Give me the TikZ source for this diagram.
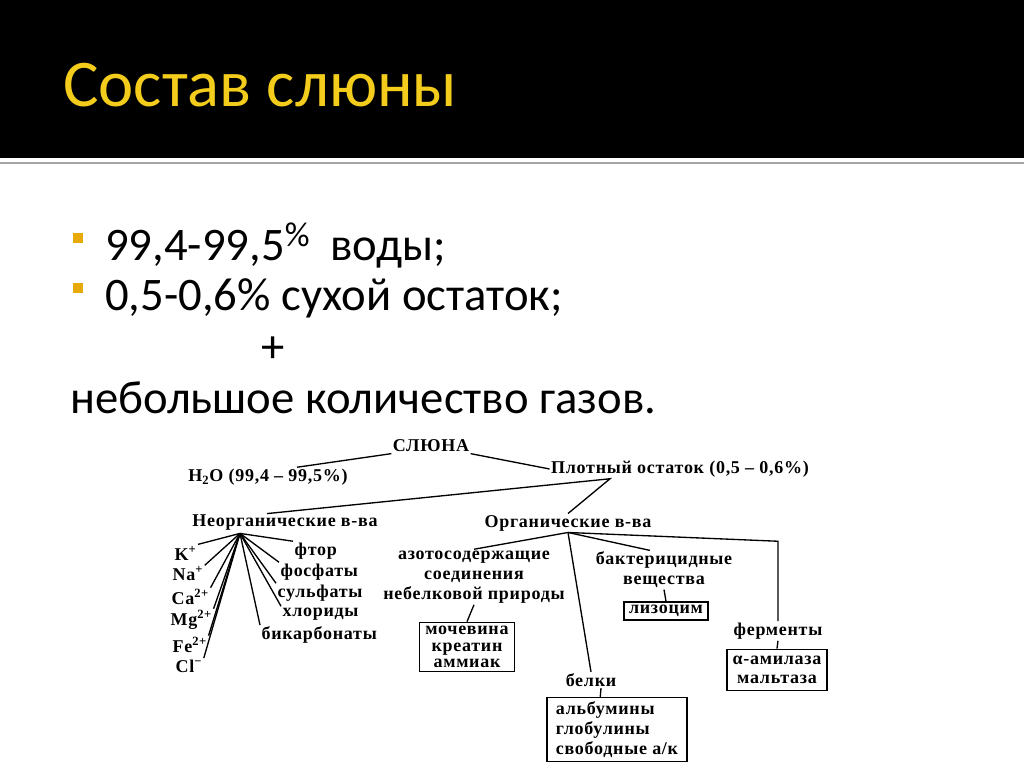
\documentclass[tikz,border=0pt]{standalone}
\usepackage{fontspec}
\setmainfont{Liberation Serif}
\newfontfamily\ttlfont{Carlito}
\newfontfamily\bdyfont{Carlito}
\newfontfamily\dgfont[LetterSpace=4]{Liberation Serif}
\usetikzlibrary{calc}
\definecolor{ttlcol}{RGB}{244,204,28}
\definecolor{bulcol}{RGB}{232,170,10}
\begin{document}
\begin{tikzpicture}[x=0.75pt,y=-0.75pt,
  dg/.style={font=\dgfont\bfseries\fontsize{13.5}{15}\selectfont, inner sep=1pt},
  bx/.style={dg, draw, line width=1.1pt, inner sep=2pt},
  ln/.style={line width=1pt},
  bul/.style={fill=bulcol, minimum size=7.5pt, inner sep=0pt},
  bdy/.style={font=\bdyfont\fontsize{35}{40}\selectfont, anchor=base west, inner sep=0pt},
  ttl/.style={font=\ttlfont\fontsize{50}{56}\selectfont, text=ttlcol, anchor=base west, inner sep=0pt}]
\useasboundingbox (0,0) rectangle (1024,767);
\fill[white] (0,0) rectangle (1024,767);
\fill[black] (0,0) rectangle (1024,158);
\draw[black!35, line width=1.5pt] (0,163) -- (1024,163);
\node[ttl] (title) at (63,106) {Состав слюны};
% bullets
\node[bul] (b1) at (78,238) {};
\node[bul] (b2) at (78,288) {};
\node[bdy] (t1) at (105,260) {99,4-99,5\raisebox{0.3em}{\fontsize{26}{28}\selectfont\%}\ \ воды;};
\node[bdy] (t2) at (105,310) {0,5-0,6\% сухой остаток;};
\node[bdy, anchor=center] (plus) at (273,350) {+};
\node[bdy] (t3) at (70,413) {небольшое количество газов.};
% diagram
\node[dg] (sl) at (431,446) {СЛЮНА};
\node[dg] (h2o) at (268,477) {H\textsubscript{2}O (99,4 – 99,5\%)};
\node[dg] (pl) at (680,469) {Плотный остаток (0,5 – 0,6\%)};
\node[dg] (inorg) at (285,523) {Неорганические в-ва};
\node[dg] (org) at (568,523) {Органические в-ва};
\draw[ln] ($(h2o.north)+(29,0)$) -- (sl.south west);
\draw[ln] (sl.south east) -- (pl.west);
\coordinate (pj) at ($(pl.south)+(-70,0)$);
\draw[ln] ($(inorg.north)+(-18,0)$) -- (pj) -- (org.north);
% inorganic
\coordinate (ia) at ($(inorg.south)+(-45,1)$);
\node[dg, anchor=west] (k) at (173,553) {K\textsuperscript{+}};
\node[dg, anchor=west] (na) at (171,574) {Na\textsuperscript{+}};
\node[dg, anchor=west] (ca) at (170,597) {Ca\textsuperscript{2+}};
\node[dg, anchor=west] (mg) at (169,620) {Mg\textsuperscript{2+}};
\node[dg, anchor=west] (fe) at (171,645) {Fe\textsuperscript{2+}};
\node[dg, anchor=west] (cl) at (174,666) {Cl\textsuperscript{−}};
\node[dg, anchor=west] (ftor) at (293,551) {фтор};
\node[dg, anchor=west] (fosf) at (279,572) {фосфаты};
\node[dg, anchor=west] (sulf) at (276,593) {сульфаты};
\node[dg, anchor=west] (hlor) at (281,614) {хлориды};
\node[dg, anchor=west] (bik) at (260,635) {бикарбонаты};
\foreach \n in {k,na,ca,mg,fe,cl} \draw[ln] (ia) -- (\n.north east);
\foreach \n in {ftor,fosf,sulf,hlor,bik} \draw[ln] (ia) -- (\n.north west);
% organic
\node[dg, align=center] (az) at (474,577) {азотосодержащие\\соединения\\небелковой природы};
\node[bx, align=center, minimum width=71pt, minimum height=37pt] (moch) at (467,647) {мочевина\\[-2.6pt]креатин\\[-2.6pt]аммиак};
\node[dg, align=center] (bakt) at (664,570) {бактерицидные\\вещества};
\node[bx, minimum width=63pt, minimum height=13.5pt, inner sep=1pt] (liz) at (666,611) {лизоцим};
\node[dg] (ferm) at (778,631) {ферменты};
\node[bx, align=center, minimum width=75pt, minimum height=31pt] (fbox) at (777,670) {α-амилаза\\[-0.8pt]мальтаза};
\node[dg] (belki) at (591,680) {белки};
\node[bx, align=left, minimum width=105pt, minimum height=48pt] (bbox) at (617,729.5) {альбумины\\глобулины\\свободные а/к};
\draw[ln] (org.south) -- (az.north);
\draw[ln] (org.south) -- (belki.north);
\draw[ln] (org.south) -- ($(bakt.north)+(-14,0)$);
\coordinate (fc) at ($(ferm.north)+(0,-80)$);
\draw[ln] (org.south) -- (fc) -- (ferm.north);
\draw[ln] (az.south) -- (moch.north);
\draw[ln] (bakt.south) -- (liz.north);
\draw[ln] (ferm.south) -- (fbox.north);
\draw[ln] ($(belki.south)+(10,0)$) -- ($(bbox.north west)+(54,0)$);
\end{tikzpicture}
\end{document}
